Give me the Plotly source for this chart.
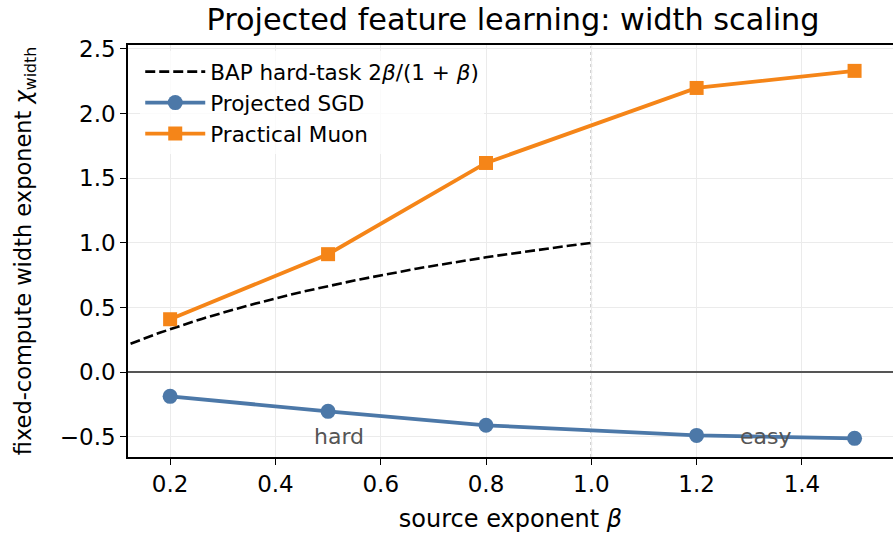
import plotly.graph_objects as go

# Source exponents and fitted width exponents
beta = [0.2, 0.5, 0.8, 1.2, 1.5]
sgd_chi = [-0.186, -0.302, -0.410, -0.488, -0.511]
muon_chi = [0.41, 0.913, 1.618, 2.198, 2.33]

# BAP hard-task prediction 2β/(1+β), evaluated on the hard-task side (β ≤ 1)
theory_beta = [0.10 + 0.01 * i for i in range(91)]
theory_chi = [2 * b / (1 + b) for b in theory_beta]

x_ticks = [0.2, 0.4, 0.6, 0.8, 1.0, 1.2, 1.4]
y_ticks = [-0.5, 0.0, 0.5, 1.0, 1.5, 2.0, 2.5]

BLUE = "#4c78a8"
ORANGE = "#f58518"
FONT = "DejaVu Sans"

fig = go.Figure()

fig.add_trace(go.Scatter(
    x=theory_beta, y=theory_chi, mode="lines",
    line=dict(color="black", width=2.6, dash="10px,4px"),
    name="BAP hard-task 2<i>β</i>/(1 + <i>β</i>)",
))
fig.add_trace(go.Scatter(
    x=beta, y=sgd_chi, mode="lines+markers",
    line=dict(color=BLUE, width=3.8),
    marker=dict(symbol="circle", size=15, color=BLUE),
    name="Projected SGD",
))
fig.add_trace(go.Scatter(
    x=beta, y=muon_chi, mode="lines+markers",
    line=dict(color=ORANGE, width=3.8),
    marker=dict(symbol="square", size=14, color=ORANGE),
    name="Practical Muon",
))

# hard / easy regime boundary
fig.add_vline(x=1.0, line=dict(color="#999999", width=1.5, dash="dot"), layer="below")

fig.add_annotation(x=0.52, y=-0.495, text="hard", showarrow=False,
                   font=dict(family=FONT, size=22, color="#555555"))
fig.add_annotation(x=1.332, y=-0.495, text="easy", showarrow=False,
                   font=dict(family=FONT, size=22, color="#555555"))

fig.update_layout(
    width=893, height=540,
    margin=dict(l=128, r=0, t=45, b=83),
    paper_bgcolor="white", plot_bgcolor="white",
    font=dict(family=FONT, size=22, color="black"),
    title=dict(text="Projected feature learning: width scaling",
               x=0.5745, xanchor="center", y=0.965, yanchor="middle",
               font=dict(family=FONT, size=30.3, color="black")),
    showlegend=True,
    legend=dict(x=0.016, y=0.985, xanchor="left", yanchor="top",
                bgcolor="rgba(255,255,255,0.8)", borderwidth=0,
                itemwidth=60,
                font=dict(family=FONT, size=21.5), tracegroupgap=5),
    xaxis=dict(
        range=[0.12, 1.573], tickvals=x_ticks,
        ticktext=[f"{v:.1f}" for v in x_ticks],
        showgrid=True, gridcolor="#ebebeb", gridwidth=1.2,
        showline=True, linecolor="black", linewidth=1.5, mirror=True,
        ticks="outside", ticklen=6, tickwidth=1.3, tickcolor="black",
        zeroline=False,
        title=dict(text="source exponent <i>β</i>", font=dict(family=FONT, size=24), standoff=14),
        tickfont=dict(family=FONT, size=23),
    ),
    yaxis=dict(
        range=[-0.655, 2.53], tickvals=y_ticks,
        ticktext=["\u22120.5", "0.0", "0.5", "1.0", "1.5", "2.0", "2.5"],
        showgrid=True, gridcolor="#ebebeb", gridwidth=1.2,
        showline=True, linecolor="black", linewidth=1.5, mirror=False,
        ticks="outside", ticklen=6, tickwidth=1.3, tickcolor="black",
        zeroline=True, zerolinecolor="#555555", zerolinewidth=1.6,
        title=dict(text="fixed-compute width exponent <i>χ</i><sub>width</sub>",
                   font=dict(family=FONT, size=22.5), standoff=22),
        tickfont=dict(family=FONT, size=23),
    ),
)

fig.write_html("out.html")
